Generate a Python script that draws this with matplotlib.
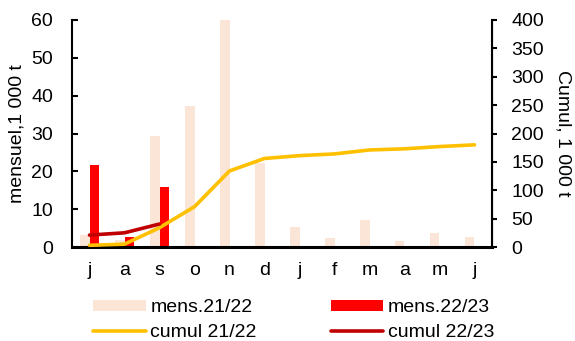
import matplotlib
matplotlib.use("Agg")
import matplotlib.pyplot as plt
import numpy as np

plt.rcParams['font.family'] = ['Liberation Sans', 'DejaVu Sans']

months = ['j', 'a', 's', 'o', 'n', 'd', 'j', 'f', 'm', 'a', 'm', 'j']
mens_2122 = [3.2, 1.8, 29.4, 37.3, 60.0, 22.2, 5.3, 2.4, 7.1, 1.7, 3.6, 2.6]
mens_2223 = [21.7, 2.7, 15.8]
cumul_2122 = [3, 5, 34, 71, 134, 156, 161, 164, 171, 173, 177, 180]
cumul_2223 = [21, 25, 40.5]

FS = 14
fig = plt.figure(figsize=(5.75, 3.41), dpi=100)
ax = fig.add_axes([72/575, 1-247/341, (492-72)/575, (247-20)/341])
ax2 = ax.twinx()

x = np.arange(len(months))
x2 = np.arange(len(mens_2223))
w = 0.28
ax.bar(x - w/2, mens_2122, width=w, color='#FBE5D6', label='mens.21/22', zorder=1)
ax.bar(x2 + w/2, mens_2223, width=w, color='#FF0000', label='mens.22/23', zorder=1)
ax2.plot(x, cumul_2122, color='#FFC000', lw=2.6, label='cumul 21/22', solid_capstyle='round')
ax2.plot(x2, cumul_2223, color='#C00000', lw=2.6, label='cumul 22/23', solid_capstyle='round')

ax.set_xlim(-0.5, 11.5)
ax.set_ylim(0, 60)
ax2.set_ylim(0, 400)
ax.set_yticks(range(0, 61, 10))
ax2.set_yticks(range(0, 401, 50))
ax.set_xticks(x)
ax.set_xticklabels(months)

for a in (ax, ax2):
    a.spines['top'].set_visible(False)
ax.spines['left'].set_linewidth(1.5)
ax.spines['bottom'].set_linewidth(2.2)
ax2.spines['right'].set_linewidth(1.5)
ax2.spines['left'].set_visible(False)
ax2.spines['bottom'].set_visible(False)
ax.tick_params(axis='y', direction='in', length=4.5, width=1.5, pad=13.5, labelsize=FS)
ax2.tick_params(axis='y', direction='out', length=3.5, width=1.5, pad=10.5, labelsize=FS)
ax.tick_params(axis='x', length=0, pad=11, labelsize=FS)

ax.set_ylabel('mensuel,1 000 t', fontsize=FS, labelpad=4)
ax2.set_ylabel('Cumul, 1 000 t', fontsize=FS, rotation=270, labelpad=20)

h1, l1 = ax.get_legend_handles_labels()
h2, l2 = ax2.get_legend_handles_labels()
handles = [h1[0], h2[0], h1[1], h2[1]]
labels = [l1[0], l2[0], l1[1], l2[1]]
fig.legend(handles, labels, ncol=2, loc='upper left', bbox_to_anchor=(93/575, 1-299/341),
           frameon=False, fontsize=FS, handlelength=2.7, handleheight=0.5,
           columnspacing=3.8, labelspacing=0.42, handletextpad=0.25, borderpad=0,
           borderaxespad=0)

fig.savefig('out.png', dpi=100)
